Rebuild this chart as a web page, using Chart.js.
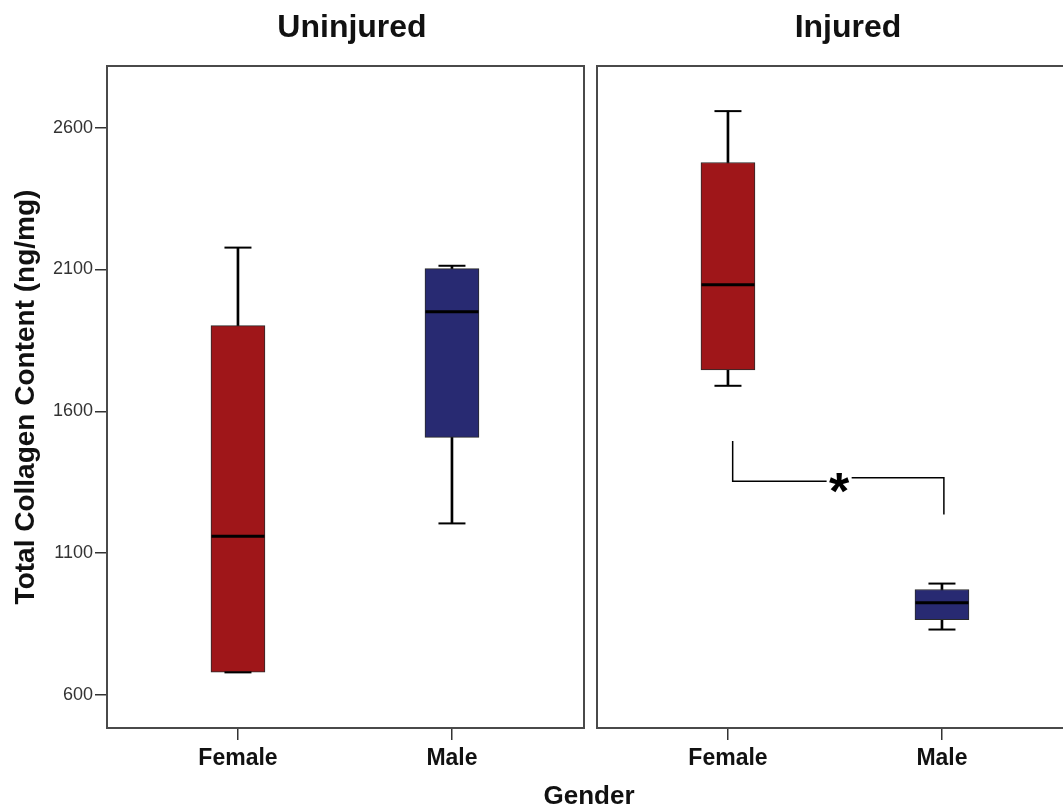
<!DOCTYPE html>
<html>
<head>
<meta charset="utf-8">
<script src="https://cdn.jsdelivr.net/npm/chart.js@4.4.1/dist/chart.umd.min.js"></script>
<style>
  body { margin: 0; width: 1063px; height: 808px; overflow: hidden; background: #fff; position: relative; font-family: 'Liberation Sans', Arial, sans-serif; }
  canvas { position: absolute; top: 0; }
  .lbl { position: absolute; font-weight: bold; color: #111; white-space: nowrap; transform: translateX(-50%); }
</style>
</head>
<body>
<canvas id="left" width="590" height="808" style="left:0"></canvas>
<canvas id="right" width="490" height="808" style="left:590px"></canvas>
<div class="lbl" style="left:352px; top:8px; font-size:32px;">Uninjured</div>
<div class="lbl" style="left:848px; top:8px; font-size:32px;">Injured</div>
<div class="lbl" style="left:589px; top:780px; font-size:26px;">Gender</div>
<script>
const genders = ['Female', 'Male'];
const yTicks = [600, 1100, 1600, 2100, 2600];

// box plot values (Female, Male)
const uninjuredMin = [680, 1205];
const uninjuredQ1 = [681, 1508];
const uninjuredMedian = [1160, 1951];
const uninjuredQ3 = [1902, 2103];
const uninjuredMax = [2177, 2113];

const injuredMin = [1690, 831];
const injuredQ1 = [1746, 866];
const injuredMedian = [2046, 925];
const injuredQ3 = [2477, 972];
const injuredMax = [2658, 993];

// significance bracket between injured groups (x in category units)
const bracketX = [0.022, 0.461, 0.578, 1.009];
const bracketY = [1495, 1354, 1366, 1236];

const boxColors = ['#9f1619', '#282a72'];
const fontFamily = "'Liberation Sans', Arial, sans-serif";

const framePlugin = {
    id: 'frame',
    afterDraw(chart) {
        const a = chart.chartArea;
        const ctx = chart.ctx;
        ctx.save();
        ctx.strokeStyle = '#4a4a4a';
        ctx.lineWidth = 2;
        ctx.strokeRect(a.left, a.top, a.right - a.left, a.bottom - a.top);
        ctx.restore();
    }
};

const bracketPlugin = {
    id: 'bracket',
    afterDatasetsDraw(chart) {
        const x = chart.scales.x, y = chart.scales.y;
        const px = bracketX.map(v => x.getPixelForValue(v));
        const py = bracketY.map(v => y.getPixelForValue(v));
        const ctx = chart.ctx;
        ctx.save();
        ctx.strokeStyle = '#000';
        ctx.lineWidth = 1.5;
        ctx.beginPath();
        ctx.moveTo(px[0], py[0]);
        ctx.lineTo(px[0], py[1]);
        ctx.lineTo(px[1], py[1]);
        ctx.moveTo(px[2], py[2]);
        ctx.lineTo(px[3], py[2]);
        ctx.lineTo(px[3], py[3]);
        ctx.stroke();
        ctx.fillStyle = '#000';
        ctx.font = 'bold 52px ' + fontFamily;
        ctx.textAlign = 'center';
        ctx.textBaseline = 'middle';
        ctx.fillText('*', (px[1] + px[2]) / 2, py[1] + 14);
        ctx.restore();
    }
};

function points(values) {
    return values.map((v, i) => ({ x: i, y: v }));
}

function ranges(lo, hi) {
    return lo.map((v, i) => ({ x: i, y: [v, hi[i]] }));
}

function makeChart(id, mins, q1, med, q3, maxs, showY, extraPlugins) {
    const ctx = document.getElementById(id).getContext('2d');
    return new Chart(ctx, {
        type: 'bar',
        data: {
            datasets: [
                {
                    label: 'whisker',
                    data: ranges(mins, maxs),
                    backgroundColor: '#000',
                    barThickness: 2,
                    grouped: false,
                    order: 3
                },
                {
                    label: 'box',
                    data: ranges(q1, q3),
                    backgroundColor: boxColors,
                    borderColor: '#2a2a2a',
                    borderWidth: 1,
                    borderSkipped: false,
                    barThickness: 54,
                    grouped: false,
                    order: 2
                },
                {
                    type: 'line',
                    label: 'caps',
                    data: points(maxs).concat(points(mins)),
                    showLine: false,
                    pointStyle: 'line',
                    pointRadius: 13.5,
                    pointBorderWidth: 2,
                    pointBorderColor: '#000',
                    order: 1
                },
                {
                    type: 'line',
                    label: 'median',
                    data: points(med),
                    showLine: false,
                    pointStyle: 'line',
                    pointRadius: 26.5,
                    pointBorderWidth: 3,
                    pointBorderColor: '#000',
                    order: 0
                }
            ]
        },
        options: {
            responsive: false,
            animation: false,
            events: [],
            layout: { autoPadding: false, padding: { top: 66, right: 6, left: showY ? 0 : 7, bottom: 0 } },
            plugins: { legend: { display: false }, tooltip: { enabled: false } },
            scales: {
                x: {
                    type: 'linear',
                    offset: false,
                    min: -0.612,
                    max: 1.617,
                    afterBuildTicks: s => { s.ticks = [{ value: 0 }, { value: 1 }]; },
                    afterFit: s => { s.height = 80; s.paddingLeft = 0; s.paddingRight = 0; },
                    border: { display: false },
                    grid: { offset: false, drawOnChartArea: false, tickLength: 12, color: '#333', lineWidth: 1.5 },
                    ticks: {
                        callback: v => genders[v],
                        color: '#111',
                        padding: 5,
                        maxRotation: 0,
                        font: { family: fontFamily, size: 23, weight: 'bold' }
                    }
                },
                y: {
                    display: showY,
                    min: 484,
                    max: 2817,
                    afterBuildTicks: s => { s.ticks = yTicks.map(v => ({ value: v })); },
                    afterFit: s => { s.width = showY ? 107 : 0; },
                    border: { display: false },
                    grid: { drawOnChartArea: false, tickLength: 12, color: '#333', lineWidth: 1.5 },
                    ticks: {
                        callback: v => String(v),
                        color: '#333',
                        padding: 2,
                        font: { family: fontFamily, size: 18 }
                    },
                    title: {
                        display: true,
                        text: 'Total Collagen Content (ng/mg)',
                        color: '#111',
                        padding: { top: 9, bottom: 0 },
                        font: { family: fontFamily, size: 28, weight: 'bold' }
                    }
                }
            }
        },
        plugins: [framePlugin].concat(extraPlugins)
    });
}

makeChart('left', uninjuredMin, uninjuredQ1, uninjuredMedian, uninjuredQ3, uninjuredMax, true, []);
makeChart('right', injuredMin, injuredQ1, injuredMedian, injuredQ3, injuredMax, false, [bracketPlugin]);
</script>
</body>
</html>
